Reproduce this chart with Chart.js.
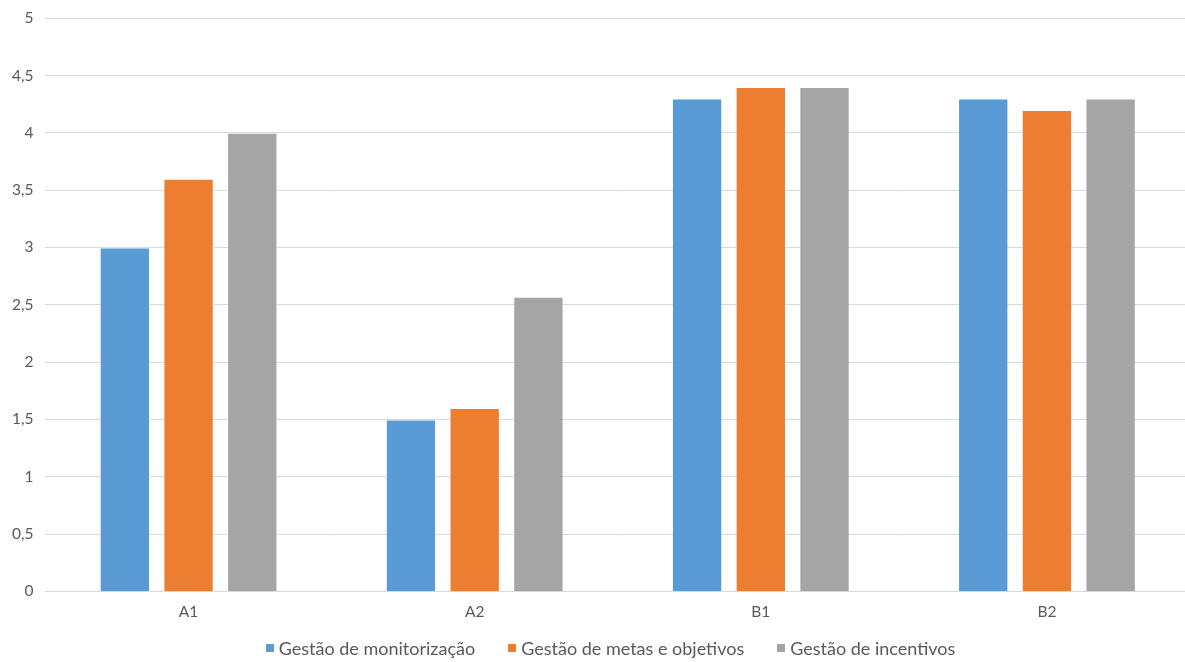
<!DOCTYPE html>
<html>
<head>
<meta charset="utf-8">
<script src="https://cdn.jsdelivr.net/npm/chart.js@4.4.0/dist/chart.umd.min.js"></script>
<style>
  html, body { margin: 0; padding: 0; background: #fff; }
  #wrap { width: 1185px; height: 662px; position: relative; overflow: hidden; }
  #legenda {
    position: absolute; left: 0; top: 638px; width: 1185px; height: 20px;
    display: flex; justify-content: center; align-items: center;
    padding-left: 36px; box-sizing: border-box;
    font-family: Lato, Carlito, sans-serif; font-size: 18px; color: #595959;
  }
  #legenda span.item { display: flex; align-items: center; margin: 0 16.5px; white-space: nowrap; }
  #legenda span.box { display: inline-block; width: 8px; height: 8px; margin-right: 5px; }
</style>
</head>
<body>
<div id="wrap">
  <canvas id="myChart" width="1190" height="640"></canvas>
  <div id="legenda"></div>
</div>
<script>
// grupos e médias por tipo de gestão
var categorias = ['A1', 'A2', 'B1', 'B2']
var monitorizacao = [3.0, 1.5, 4.3, 4.3]
var metas = [3.6, 1.6, 4.4, 4.2]
var incentivos = [4.0, 2.57, 4.4, 4.3]
var nomes = ['Gestão de monitorização', 'Gestão de metas e objetivos', 'Gestão de incentivos']
var cores = ['#5b9bd5', '#ed7d31', '#a5a5a5']

const ctx = document.getElementById('myChart')
var fonte = "Lato, Carlito, sans-serif"

function serie(i, valores) {
  return {
    label: nomes[i],
    data: valores,
    backgroundColor: cores[i],
    borderColor: 'rgba(255,255,255,0.45)',
    borderWidth: 1,
    borderSkipped: 'bottom'
  }
}

var webchart = new Chart(ctx, {
  type: 'bar',
  data: {
    labels: categorias,
    datasets: [
      serie(0, monitorizacao),
      serie(1, metas),
      serie(2, incentivos)
    ]
  },
  options: {
    responsive: false,
    animation: false,
    layout: { padding: { top: 0, right: 0, left: 0, bottom: 8 } },
    datasets: {
      bar: { categoryPercentage: 0.668, barPercentage: 0.79 }
    },
    scales: {
      x: {
        grid: { display: false, drawTicks: false },
        border: { color: '#d9d9d9', width: 1 },
        ticks: { color: '#595959', font: { family: fonte, size: 15.5 }, padding: 11 }
      },
      y: {
        min: 0,
        max: 5,
        grid: { color: '#d9d9d9', drawTicks: false },
        border: { display: false },
        ticks: {
          stepSize: 0.5,
          color: '#595959',
          padding: 12,
          font: { family: fonte, size: 15.5, lineHeight: 0.8 },
          callback: function(v) { return String(v).replace('.', ',') }
        }
      }
    },
    plugins: {
      tooltip: { enabled: false },
      legend: { display: false }
    }
  }
})

// legenda em html por baixo do gráfico
var leg = document.getElementById('legenda')
webchart.data.datasets.forEach(function(ds) {
  var item = document.createElement('span')
  item.className = 'item'
  var box = document.createElement('span')
  box.className = 'box'
  box.style.background = ds.backgroundColor
  item.appendChild(box)
  item.appendChild(document.createTextNode(ds.label))
  leg.appendChild(item)
})
</script>
</body>
</html>
